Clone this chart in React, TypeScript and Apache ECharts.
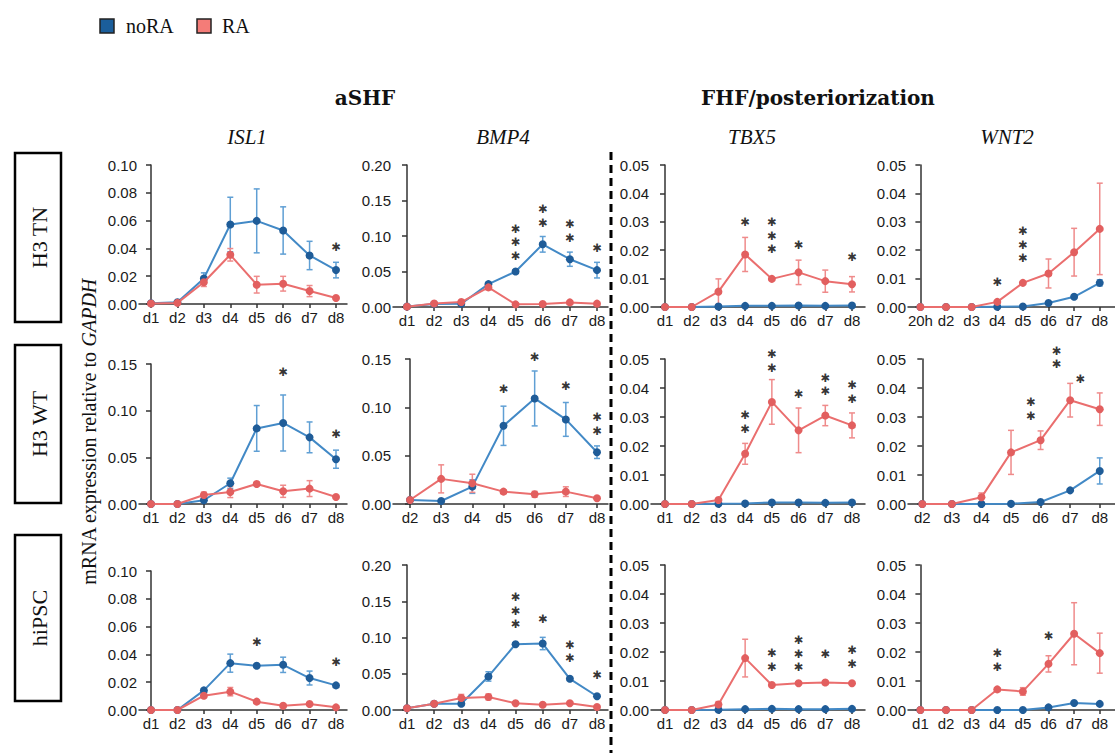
import React, { useEffect, useRef } from 'react';
import * as echarts from 'echarts';

// ---------- categories & labels ----------
const daysD1 = ['d1', 'd2', 'd3', 'd4', 'd5', 'd6', 'd7', 'd8'];
const daysD2 = ['d2', 'd3', 'd4', 'd5', 'd6', 'd7', 'd8'];
const days20h = ['20h', 'd2', 'd3', 'd4', 'd5', 'd6', 'd7', 'd8'];
const rowLabels = ['H3 TN', 'H3 WT', 'hiPSC'];
const geneLabels = ['ISL1', 'BMP4', 'TBX5', 'WNT2'];
const groupTitles = ['aSHF', 'FHF/posteriorization'];
const seriesNames = ['noRA', 'RA'];
const starGlyph = '✱';

// ---------- H3 TN ----------
const tnIsl1NoRA = [0.0005, 0.0012, 0.0184, 0.0572, 0.0598, 0.0529, 0.0349, 0.0244];
const tnIsl1NoRAErr = [0, 0, 0.004, 0.0196, 0.023, 0.017, 0.0102, 0.0056];
const tnIsl1RA = [0.0003, 0.0008, 0.0156, 0.0354, 0.0139, 0.0146, 0.0093, 0.0043];
const tnIsl1RAErr = [0, 0, 0.003, 0.0045, 0.006, 0.0053, 0.004, 0.0008];
const tnIsl1Stars = [[7, 0.041, 1]];

const tnBmp4NoRA = [0.0008, 0.0042, 0.0045, 0.0322, 0.05, 0.0883, 0.0673, 0.0519];
const tnBmp4NoRAErr = [0, 0.001, 0.002, 0.003, 0.002, 0.011, 0.01, 0.011];
const tnBmp4RA = [0.0005, 0.005, 0.007, 0.0276, 0.0037, 0.0042, 0.0065, 0.0047];
const tnBmp4RAErr = [0, 0.001, 0.002, 0.003, 0.001, 0.001, 0.001, 0.001];
const tnBmp4Stars = [[4, 0.091, 3], [5, 0.1285, 2], [6, 0.107, 2], [7, 0.0827, 1]];

const tnTbx5NoRA = [0, 0, 0.0002, 0.0004, 0.0004, 0.0005, 0.0004, 0.0005];
const tnTbx5NoRAErr = [0, 0, 0, 0, 0, 0, 0, 0];
const tnTbx5RA = [0, 0, 0.0054, 0.0185, 0.0099, 0.0122, 0.0091, 0.008];
const tnTbx5RAErr = [0, 0, 0.0045, 0.006, 0.0005, 0.0043, 0.0039, 0.0027];
const tnTbx5Stars = [[3, 0.03, 1], [4, 0.0251, 3], [5, 0.022, 1], [7, 0.0176, 1]];

const tnWnt2NoRA = [0, 0, 0, 0.0001, 0.0002, 0.0014, 0.0036, 0.0085];
const tnWnt2NoRAErr = [0, 0, 0, 0, 0, 0.0003, 0.0004, 0.0011];
const tnWnt2RA = [0, 0, 0, 0.0018, 0.0085, 0.0118, 0.0193, 0.0275];
const tnWnt2RAErr = [0, 0, 0, 0.0004, 0.0005, 0.0051, 0.0084, 0.0161];
const tnWnt2Stars = [[3, 0.0088, 1], [4, 0.022, 3]];

// ---------- H3 WT ----------
const wtIsl1NoRA = [0, 0, 0.004, 0.0222, 0.081, 0.0868, 0.0714, 0.048];
const wtIsl1NoRAErr = [0, 0, 0.002, 0.0055, 0.0245, 0.03, 0.0165, 0.0097];
const wtIsl1RA = [0, 0, 0.0097, 0.0129, 0.0215, 0.0136, 0.0165, 0.0075];
const wtIsl1RAErr = [0, 0, 0.003, 0.006, 0.002, 0.0065, 0.0085, 0.001];
const wtIsl1Stars = [[5, 0.141, 1], [7, 0.075, 1]];

const wtBmp4NoRA = [0.0041, 0.0031, 0.018, 0.0809, 0.1092, 0.0875, 0.0536];
const wtBmp4NoRAErr = [0, 0, 0.007, 0.0203, 0.0284, 0.0175, 0.0065];
const wtBmp4RA = [0.0041, 0.026, 0.0214, 0.0128, 0.01, 0.0128, 0.0059];
const wtBmp4RAErr = [0, 0.0145, 0.0094, 0.002, 0.003, 0.005, 0.001];
const wtBmp4Stars = [[3, 0.1186, 1], [4, 0.1524, 1], [5, 0.122, 1], [6, 0.083, 2]];

const wtTbx5NoRA = [0, 0, 0.0001, 0.0002, 0.0005, 0.0005, 0.0004, 0.0005];
const wtTbx5NoRAErr = [0, 0, 0, 0, 0, 0, 0, 0];
const wtTbx5RA = [0, 0, 0.0014, 0.0173, 0.0352, 0.0254, 0.0305, 0.0271];
const wtTbx5RAErr = [0, 0, 0.0005, 0.0036, 0.0077, 0.0077, 0.0035, 0.0043];
const wtTbx5Stars = [[3, 0.0282, 2], [4, 0.0493, 2], [5, 0.038, 1], [6, 0.0412, 2], [7, 0.0387, 2]];

const wtWnt2NoRA = [0, 0, 0, 0.0001, 0.0007, 0.0047, 0.0114];
const wtWnt2NoRAErr = [0, 0, 0, 0, 0.0002, 0.0004, 0.0045];
const wtWnt2RA = [0, 0, 0.0023, 0.0178, 0.022, 0.0358, 0.0327];
const wtWnt2RAErr = [0, 0, 0.0015, 0.0076, 0.0032, 0.0058, 0.0056];
const wtWnt2Stars = [[3.67, 0.0327, 2], [4.54, 0.0505, 2], [5.34, 0.043, 1]];

// ---------- hiPSC ----------
const ipsIsl1NoRA = [0, 0, 0.0141, 0.0337, 0.0318, 0.0325, 0.023, 0.0177];
const ipsIsl1NoRAErr = [0, 0, 0.0015, 0.0065, 0.001, 0.0055, 0.005, 0.001];
const ipsIsl1RA = [0, 0, 0.0103, 0.0132, 0.006, 0.0031, 0.0043, 0.0019];
const ipsIsl1RAErr = [0, 0, 0.0015, 0.003, 0.001, 0.001, 0.001, 0.0005];
const ipsIsl1Stars = [[4, 0.0486, 1], [7, 0.0342, 1]];

const ipsBmp4NoRA = [0.0023, 0.0087, 0.0087, 0.0463, 0.0908, 0.0917, 0.043, 0.019];
const ipsBmp4NoRAErr = [0, 0.001, 0.001, 0.0065, 0.002, 0.0085, 0.002, 0.002];
const ipsBmp4RA = [0.0023, 0.0087, 0.0165, 0.018, 0.0092, 0.0073, 0.0092, 0.0041];
const ipsBmp4RAErr = [0, 0, 0.005, 0.004, 0.001, 0.001, 0.001, 0.001];
const ipsBmp4Stars = [[4, 0.137, 3], [5, 0.125, 1], [6, 0.081, 2], [7, 0.048, 1]];

const ipsTbx5NoRA = [0, 0, 0.0001, 0.0003, 0.0004, 0.0003, 0.0003, 0.0004];
const ipsTbx5NoRAErr = [0, 0, 0, 0, 0, 0, 0, 0];
const ipsTbx5RA = [0, 0, 0.0019, 0.0179, 0.0086, 0.0092, 0.0095, 0.0092];
const ipsTbx5RAErr = [0, 0, 0.001, 0.0065, 0.0005, 0.0004, 0.0004, 0.0004];
const ipsTbx5Stars = [[4, 0.0172, 2], [5, 0.0194, 3], [6, 0.0194, 1], [7, 0.0183, 2]];

const ipsWnt2NoRA = [0, 0, 0, 0, 0, 0.0009, 0.0024, 0.0021];
const ipsWnt2NoRAErr = [0, 0, 0, 0, 0, 0.0002, 0.0003, 0.0003];
const ipsWnt2RA = [0, 0, 0, 0.0071, 0.0064, 0.0159, 0.0263, 0.0196];
const ipsWnt2RAErr = [0, 0, 0, 0.0005, 0.0013, 0.0028, 0.0107, 0.0069];
const ipsWnt2Stars = [[3, 0.0172, 2], [5, 0.0256, 1]];

// y-axis scales per column & row
const yMaxTN = [0.1, 0.2, 0.05, 0.05];
const yStepTN = [0.02, 0.05, 0.01, 0.01];
const yMaxWT = [0.15, 0.15, 0.05, 0.05];
const yStepWT = [0.05, 0.05, 0.01, 0.01];
const yMaxIPS = [0.1, 0.2, 0.05, 0.05];
const yStepIPS = [0.02, 0.05, 0.01, 0.01];

const panels = [
  { row: 0, col: 0, cats: daysD1, yMax: yMaxTN[0], yStep: yStepTN[0], a: tnIsl1NoRA, ae: tnIsl1NoRAErr, b: tnIsl1RA, be: tnIsl1RAErr, stars: tnIsl1Stars },
  { row: 0, col: 1, cats: daysD1, yMax: yMaxTN[1], yStep: yStepTN[1], a: tnBmp4NoRA, ae: tnBmp4NoRAErr, b: tnBmp4RA, be: tnBmp4RAErr, stars: tnBmp4Stars },
  { row: 0, col: 2, cats: daysD1, yMax: yMaxTN[2], yStep: yStepTN[2], a: tnTbx5NoRA, ae: tnTbx5NoRAErr, b: tnTbx5RA, be: tnTbx5RAErr, stars: tnTbx5Stars },
  { row: 0, col: 3, cats: days20h, yMax: yMaxTN[3], yStep: yStepTN[3], a: tnWnt2NoRA, ae: tnWnt2NoRAErr, b: tnWnt2RA, be: tnWnt2RAErr, stars: tnWnt2Stars },
  { row: 1, col: 0, cats: daysD1, yMax: yMaxWT[0], yStep: yStepWT[0], a: wtIsl1NoRA, ae: wtIsl1NoRAErr, b: wtIsl1RA, be: wtIsl1RAErr, stars: wtIsl1Stars },
  { row: 1, col: 1, cats: daysD2, yMax: yMaxWT[1], yStep: yStepWT[1], a: wtBmp4NoRA, ae: wtBmp4NoRAErr, b: wtBmp4RA, be: wtBmp4RAErr, stars: wtBmp4Stars },
  { row: 1, col: 2, cats: daysD1, yMax: yMaxWT[2], yStep: yStepWT[2], a: wtTbx5NoRA, ae: wtTbx5NoRAErr, b: wtTbx5RA, be: wtTbx5RAErr, stars: wtTbx5Stars },
  { row: 1, col: 3, cats: daysD2, yMax: yMaxWT[3], yStep: yStepWT[3], a: wtWnt2NoRA, ae: wtWnt2NoRAErr, b: wtWnt2RA, be: wtWnt2RAErr, stars: wtWnt2Stars },
  { row: 2, col: 0, cats: daysD1, yMax: yMaxIPS[0], yStep: yStepIPS[0], a: ipsIsl1NoRA, ae: ipsIsl1NoRAErr, b: ipsIsl1RA, be: ipsIsl1RAErr, stars: ipsIsl1Stars },
  { row: 2, col: 1, cats: daysD1, yMax: yMaxIPS[1], yStep: yStepIPS[1], a: ipsBmp4NoRA, ae: ipsBmp4NoRAErr, b: ipsBmp4RA, be: ipsBmp4RAErr, stars: ipsBmp4Stars },
  { row: 2, col: 2, cats: daysD1, yMax: yMaxIPS[2], yStep: yStepIPS[2], a: ipsTbx5NoRA, ae: ipsTbx5NoRAErr, b: ipsTbx5RA, be: ipsTbx5RAErr, stars: ipsTbx5Stars },
  { row: 2, col: 3, cats: daysD1, yMax: yMaxIPS[3], yStep: yStepIPS[3], a: ipsWnt2NoRA, ae: ipsWnt2NoRAErr, b: ipsWnt2RA, be: ipsWnt2RAErr, stars: ipsWnt2Stars },
];

// ---------- layout (pixels) ----------
const colX = [
  { axis: 139, first: 151, first7: 151, last: 336, right: 347 },
  { axis: 393, first: 407, first7: 410, last: 597, right: 608 },
  { axis: 651, first: 665, first7: 665, last: 852, right: 865 },
  { axis: 908, first: 921, first7: 923, last: 1109, right: 1125 },
];
const rowY = [
  { top: [165, 165, 165, 165], bottom: [304, 307, 307, 307] },
  { top: [364, 359, 359, 359], bottom: [504, 504, 504, 504] },
  { top: [571, 565, 565, 565], bottom: [710, 710, 710, 710] },
];

const BLUE_LINE = '#4289c6';
const BLUE_DOT = '#1f5c98';
const BLUE_ERR = '#5f9fd4';
const RED_LINE = '#ea6e6e';
const RED_DOT = '#e25f5f';
const RED_ERR = '#ef8b8b';
const AXIS = '#333';
const SANS = '"Liberation Sans", Arial, sans-serif';
const SERIF = '"Liberation Serif", "Times New Roman", serif';
const TITLE_SERIF = '"DejaVu Serif", "Liberation Serif", serif';

function errorSeries(i: number, vals: number[], errs: number[], color: string) {
  const data: number[][] = [];
  vals.forEach((v, k) => {
    if (errs[k] > 0) data.push([k, v - errs[k], v + errs[k]]);
  });
  return {
    type: 'custom',
    xAxisIndex: i,
    yAxisIndex: i,
    silent: true,
    z: 1,
    clip: false,
    data,
    renderItem: (params: any, api: any) => {
      const x = api.value(0);
      const lo = api.coord([x, api.value(1)]);
      const hi = api.coord([x, api.value(2)]);
      const w = 3;
      const style = { stroke: color, lineWidth: 1.5 };
      return {
        type: 'group',
        children: [
          { type: 'line', shape: { x1: hi[0], y1: hi[1], x2: lo[0], y2: lo[1] }, style },
          { type: 'line', shape: { x1: hi[0] - w, y1: hi[1], x2: hi[0] + w, y2: hi[1] }, style },
          { type: 'line', shape: { x1: lo[0] - w, y1: lo[1], x2: lo[0] + w, y2: lo[1] }, style },
        ],
      };
    },
  };
}

function buildOption() {
  const grid: any[] = [];
  const xAxis: any[] = [];
  const yAxis: any[] = [];
  const series: any[] = [];

  panels.forEach((p, i) => {
    const c = colX[p.col];
    const n = p.cats.length;
    const first = n === 7 ? c.first7 : c.first;
    const s = (c.last - first) / (n - 1);
    const top = rowY[p.row].top[p.col];
    const bottom = rowY[p.row].bottom[p.col];
    const idx = p.cats.map((_, k) => k);
    grid.push({ left: c.axis, top, width: c.right - c.axis, height: bottom - top });
    xAxis.push({
      type: 'value',
      gridIndex: i,
      min: -(first - c.axis) / s,
      max: n - 1 + (c.right - c.last) / s,
      splitLine: { show: false },
      axisLine: { show: true, onZero: false, lineStyle: { color: AXIS, width: 1.5 } },
      axisTick: { show: true, customValues: idx, length: 4, lineStyle: { color: AXIS, width: 1.5 } },
      axisLabel: {
        customValues: idx,
        formatter: (v: number) => p.cats[Math.round(v)],
        color: '#1a1a1a',
        fontFamily: SANS,
        fontSize: 15,
        margin: 6,
      },
    });
    yAxis.push({
      type: 'value',
      gridIndex: i,
      min: 0,
      max: p.yMax,
      interval: p.yStep,
      splitLine: { show: false },
      axisLine: { show: true, lineStyle: { color: AXIS, width: 1.5 } },
      axisTick: { show: true, length: 5, lineStyle: { color: AXIS, width: 1.5 } },
      axisLabel: {
        formatter: (v: number) => v.toFixed(2),
        color: '#1a1a1a',
        fontFamily: SANS,
        fontSize: 15,
        margin: 2,
      },
    });
    series.push(errorSeries(i, p.a, p.ae, BLUE_ERR));
    series.push(errorSeries(i, p.b, p.be, RED_ERR));
    series.push({
      name: seriesNames[0],
      type: 'line',
      xAxisIndex: i,
      yAxisIndex: i,
      data: p.a.map((v, k) => [k, v]),
      symbol: 'circle',
      symbolSize: 8,
      lineStyle: { color: BLUE_LINE, width: 2 },
      itemStyle: { color: BLUE_DOT },
      z: 2,
      clip: false,
    });
    series.push({
      name: seriesNames[1],
      type: 'line',
      xAxisIndex: i,
      yAxisIndex: i,
      data: p.b.map((v, k) => [k, v]),
      symbol: 'circle',
      symbolSize: 8,
      lineStyle: { color: RED_LINE, width: 2 },
      itemStyle: { color: RED_DOT },
      z: 3,
      clip: false,
    });
    series.push({
      type: 'scatter',
      xAxisIndex: i,
      yAxisIndex: i,
      symbolSize: 0,
      silent: true,
      clip: false,
      z: 5,
      data: p.stars.map(([x, y, k]) => ({
        value: [x, y],
        label: { formatter: new Array(k).fill(starGlyph).join('\n') },
      })),
      label: {
        show: true,
        position: 'inside',
        color: '#000',
        fontFamily: '"DejaVu Sans", sans-serif',
        fontSize: 11.5,
        lineHeight: 13.5,
      },
    });
  });

  const graphic: any[] = [];
  // legend
  const legendColors = ['#1b5e9b', '#f47c78'];
  const legendX = [100, 197];
  const legendTextX = [126, 222];
  seriesNames.forEach((nm, k) => {
    graphic.push({
      type: 'rect',
      shape: { x: legendX[k], y: 19, width: 14, height: 14 },
      style: { fill: legendColors[k], stroke: '#222', lineWidth: 1.5 },
    });
    graphic.push({
      type: 'text',
      x: legendTextX[k],
      y: 26,
      style: { text: nm, font: `20px ${SERIF}`, fill: '#111', verticalAlign: 'middle', align: 'left' },
    });
  });
  // group titles
  const titleX = [365, 818];
  groupTitles.forEach((t, k) => {
    graphic.push({
      type: 'text',
      x: titleX[k],
      y: 98,
      style: { text: t, font: `bold 20px ${TITLE_SERIF}`, fill: '#111', align: 'center', verticalAlign: 'middle' },
    });
  });
  // gene names
  const geneX = [247, 503, 752, 1007];
  geneLabels.forEach((g, k) => {
    graphic.push({
      type: 'text',
      x: geneX[k],
      y: 137,
      style: { text: g, font: `italic 21px ${SERIF}`, fill: '#111', align: 'center', verticalAlign: 'middle' },
    });
  });
  // row label boxes
  const boxY = [[153, 322], [345, 503], [535, 701]];
  rowLabels.forEach((r, k) => {
    const [y0, y1] = boxY[k];
    graphic.push({
      type: 'rect',
      shape: { x: 15, y: y0, width: 46, height: y1 - y0 },
      style: { fill: '#fff', stroke: '#000', lineWidth: 2.5 },
    });
    graphic.push({
      type: 'text',
      x: 39,
      y: (y0 + y1) / 2,
      rotation: Math.PI / 2,
      style: { text: r, font: `22px ${SERIF}`, fill: '#111', align: 'center', verticalAlign: 'middle' },
    });
  });
  // y-axis title
  graphic.push({
    type: 'text',
    x: 89,
    y: 432,
    rotation: Math.PI / 2,
    style: {
      text: 'mRNA expression relative to {i|GAPDH}',
      font: `20px ${SERIF}`,
      fill: '#111',
      align: 'center',
      verticalAlign: 'middle',
      rich: { i: { fontStyle: 'italic', fontSize: 20, fontFamily: SERIF, fill: '#111' } },
    },
  });
  // dashed separator
  graphic.push({
    type: 'line',
    shape: { x1: 611, y1: 152, x2: 611, y2: 753 },
    style: { stroke: '#000', lineWidth: 3, lineDash: [8, 5] },
  });

  return { animation: false, backgroundColor: '#fff', grid, xAxis, yAxis, series, graphic };
}

export default function App() {
  const ref = useRef<HTMLDivElement>(null);
  useEffect(() => {
    if (!ref.current) return;
    const chart = echarts.init(ref.current, undefined, { renderer: 'svg' });
    chart.setOption(buildOption() as any);
    return () => chart.dispose();
  }, []);
  return (
    <div
      ref={ref}
      style={{ position: 'fixed', left: 0, top: 0, width: 1115, height: 753, background: '#fff' }}
    />
  );
}
